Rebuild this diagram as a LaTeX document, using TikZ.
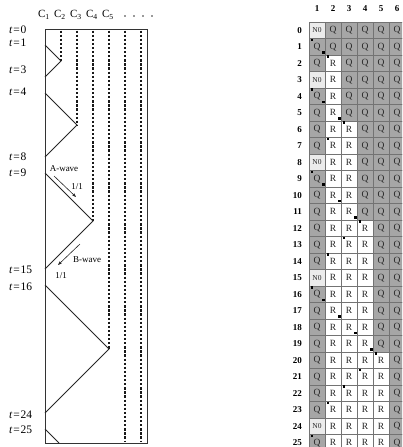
\documentclass[tikz,border=0pt]{standalone}
\usepackage{fontspec}
\setmainfont{Liberation Serif}
\usetikzlibrary{arrows.meta}
\newcommand\txtQ{Q}
\newcommand\txtR{R}
\newcommand\txtN{N0}
\begin{document}
\begin{tikzpicture}[x=1pt,y=-1pt,
  frame/.style={draw=black!80,line width=0.8pt},
  wave/.style={draw=black!85,line width=0.8pt},
  cellcol/.style={draw=black!90,line width=2.5pt,dash pattern=on 2.3pt off 1.8pt},
  tlab/.style={anchor=west,inner sep=0pt,font=\fontsize{11.5}{11.5}\selectfont},
  clab/.style={inner sep=0pt,font=\fontsize{11}{11}\selectfont},
  cdot/.style={circle,fill=black!80,minimum size=1.8pt,inner sep=0pt},
  wlab/.style={inner sep=0pt,font=\fontsize{9}{9}\selectfont},
  warrow/.style={draw=black!85,line width=0.6pt,-{Stealth[length=4pt,width=3pt]}},
  cell/.style={draw=black!55,line width=0.4pt,minimum width=16pt,minimum height=16.5pt,
    inner sep=0pt,font=\fontsize{9.5}{9.5}\selectfont,text=black!85},
  cellQ/.style={cell,fill=black!35},
  cellR/.style={cell,fill=white},
  cellN/.style={cell,fill=black!8,font=\fontsize{7.5}{7.5}\selectfont},
  rowlab/.style={anchor=east,inner sep=0pt,font=\bfseries\fontsize{9}{9}\selectfont},
  collab/.style={inner sep=0pt,font=\bfseries\fontsize{9}{9}\selectfont},
  sig/.style={rectangle,fill=black,minimum size=2.2pt,inner sep=0pt}]
\useasboundingbox (0,0) rectangle (402,447);
\clip (0,0) rectangle (402,447);
% ---------- left: space-time diagram ----------
\coordinate (ftl) at (45,29);
\coordinate (ftr) at (147,29);
\coordinate (fbr) at (147,443);
\coordinate (fbl) at (45,443);
\draw[frame] (ftl) -- (ftr) -- (fbr) -- (fbl) -- cycle;
% dotted cell columns
\coordinate (c2t) at (61,30.5);  \coordinate (c2b) at (61,61);
\coordinate (c3t) at (77,30.5);  \coordinate (c3b) at (77,125);
\coordinate (c4t) at (93,30.5);  \coordinate (c4b) at (93,221);
\coordinate (c5t) at (109,30.5); \coordinate (c5b) at (109,349);
\coordinate (c6t) at (125,30.5); \coordinate (c6b) at (125,442);
\coordinate (c7t) at (141,30.5); \coordinate (c7b) at (141,442);
\foreach \i in {2,...,7}{\draw[cellcol] (c\i t) -- (c\i b);}
% zigzag signals
\coordinate (w1a) at (45,45);  \coordinate (w1c) at (45,77);
\coordinate (w2a) at (45,93);  \coordinate (w2c) at (45,157);
\coordinate (w3a) at (45,173); \coordinate (w3c) at (45,269);
\coordinate (w4a) at (45,285); \coordinate (w4c) at (45,413);
\coordinate (w5a) at (45,429); \coordinate (w5e) at (59,443);
\draw[wave] (w1a) -- (c2b) -- (w1c);
\draw[wave] (w2a) -- (c3b) -- (w2c);
\draw[wave] (w3a) -- (c4b) -- (w3c);
\draw[wave] (w4a) -- (c5b) -- (w4c);
\draw[wave] (w5a) -- (w5e);
% time labels
\foreach \t/\y in {0/30,1/43,3/70,4/92,8/157,9/173,15/270,16/287,24/415,25/430}{
  \node[tlab] (lt\t) at (9,\y) {\textit{t}\hspace{0.8pt}=\hspace{0.8pt}\t};}
% column labels
\foreach \i/\x in {1/44,2/60,3/76,4/92,5/108}{
  \node[clab] (C\i) at (\x,15) {C\textsubscript{\i}};}
\foreach \i/\x in {1/125,2/134,3/143,4/152}{
  \node[cdot] (cd\i) at (\x,16) {};}
% waves
\node[wlab] (alab) at (64,169) {A-wave};
\node[wlab] (aval) at (77,187) {1/1};
\coordinate (aas) at (54,176); \coordinate (aae) at (76,197);
\draw[warrow] (aas) -- (aae);
\node[wlab] (blab) at (87,260) {B-wave};
\node[wlab] (bval) at (61,276) {1/1};
\coordinate (bas) at (80,244); \coordinate (bae) at (58,265);
\draw[warrow] (bas) -- (bae);
% ---------- right: state table ----------
\foreach \c in {1,...,6}{
  \node[collab] (h\c) at (317+16*\c-16,8.5) {\c};}
\foreach \r/\f/\k in {0/N/0,1/Q/0,2/Q/1,3/N/1,4/Q/1,5/Q/1,6/Q/2,7/Q/2,8/N/2,9/Q/2,
    10/Q/2,11/Q/2,12/Q/3,13/Q/3,14/Q/3,15/N/3,16/Q/3,17/Q/3,18/Q/3,19/Q/3,
    20/Q/4,21/Q/4,22/Q/4,23/Q/4,24/N/4,25/Q/4}{
  \node[cell\f] (g\r-1) at (317,30.25+16.5*\r) {\csname txt\f\endcsname};
  \foreach \c in {2,...,6}{
    \pgfmathtruncatemacro\kk{\k+1}
    \ifnum\c>\kk \def\st{Q}\else\def\st{R}\fi
    \node[cell\st] (g\r-\c) at (317+16*\c-16,30.25+16.5*\r) {\csname txt\st\endcsname};
  }
  \node[rowlab] (rl\r) at (302,30.25+16.5*\r) {\r};
}
% signal markers
\foreach \r/\c in {1/1,2/2,4/1,6/3,7/2,9/1,12/4,13/3,14/2,16/1,20/5,21/4,22/3,23/2,25/1}{
  \node[sig] (s\r-\c) at (309+16*\c-16+3,22+16.5*\r+1.5) {};}
\foreach \r/\c in {1/1,4/1,5/2,9/1,10/2,11/3,16/1,17/2,18/3,19/4}{
  \node[sig] (b\r-\c) at (309+16*\c-1.5,22+16.5*\r+16.5-2.5) {};}
\end{tikzpicture}
\end{document}
